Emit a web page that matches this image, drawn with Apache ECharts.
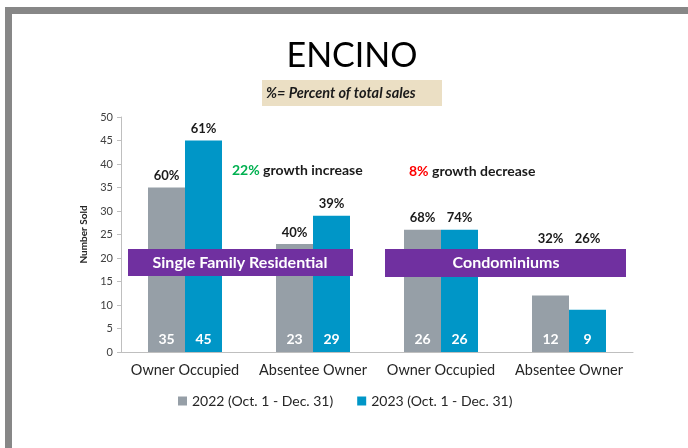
<!DOCTYPE html>
<html>
<head>
<meta charset="utf-8">
<script src="https://cdn.jsdelivr.net/npm/echarts@6/dist/echarts.min.js"></script>
<style>
  html, body { margin: 0; padding: 0; background: #fff; }
  #chart { width: 688px; height: 448px; }
</style>
</head>
<body>
<div id="chart"></div>
<script>
const categories = ["Owner Occupied", "Absentee Owner", "Owner Occupied", "Absentee Owner"];
const sold2022 = [35, 23, 26, 12];
const sold2023 = [45, 29, 26, 9];
const pct2022 = ["60%", "40%", "68%", "32%"];
const pct2023 = ["61%", "39%", "74%", "26%"];
const yTicks = { min: 0, max: 50, interval: 5 };

const FONT = "Lato, 'Open Sans', sans-serif";
const GRAY = "#969fa7";
const BLUE = "#0096c7";

// percent labels sit on a zero-height stacked bar; last category floats above the band
function pctData(values, pcts, lastDistance) {
  return pcts.map((p, i) => {
    const item = { value: 0, pct: p };
    if (i === values.length - 1) item.label = { distance: lastDistance };
    return item;
  });
}

const chart = echarts.init(document.getElementById("chart"));

const option = {
  animation: false,
  textStyle: { fontFamily: FONT },
  grid: { left: 121, right: 55, top: 117, bottom: 96 },
  legend: {
    data: ["2022 (Oct. 1 - Dec. 31)", "2023 (Oct. 1 - Dec. 31)"],
    left: 173,
    top: 389,
    icon: "rect",
    itemWidth: 9,
    itemHeight: 9,
    itemGap: 24,
    textStyle: { fontFamily: FONT, fontSize: 14, color: "#262626" },
  },
  xAxis: {
    type: "category",
    data: categories,
    axisLine: { lineStyle: { color: "#bfbfbf" } },
    axisTick: { length: 5, lineStyle: { color: "#bfbfbf" } },
    axisLabel: { fontSize: 14.5, color: "#262626", margin: 11, interval: 0 },
  },
  yAxis: {
    type: "value",
    min: yTicks.min,
    max: yTicks.max,
    interval: yTicks.interval,
    name: "Number Sold",
    nameLocation: "middle",
    nameRotate: 90,
    nameGap: 32,
    nameTextStyle: { fontSize: 10, fontWeight: "bold", color: "#262626" },
    splitLine: { show: false },
    axisLine: { show: true, lineStyle: { color: "#bfbfbf" } },
    axisTick: { show: true, length: 4, lineStyle: { color: "#bfbfbf" } },
    axisLabel: { fontSize: 11, color: "#404040", margin: 8 },
  },
  series: [
    {
      name: "2022 (Oct. 1 - Dec. 31)",
      type: "bar",
      stack: "a",
      data: sold2022,
      barWidth: 37,
      barGap: "0%",
      itemStyle: { color: GRAY },
      label: {
        show: true, position: "insideBottom", distance: 6,
        color: "#fff", fontWeight: "bold", fontSize: 14,
      },
    },
    {
      name: "pct2022",
      type: "bar",
      stack: "a",
      data: pctData(sold2022, pct2022, 50),
      barWidth: 37,
      barGap: "0%",
      itemStyle: { color: GRAY },
      label: {
        show: true, position: "top", distance: 5,
        formatter: (p) => p.data.pct,
        color: "#1a1a1a", fontWeight: "bold", fontSize: 13,
      },
    },
    {
      name: "2023 (Oct. 1 - Dec. 31)",
      type: "bar",
      stack: "b",
      data: sold2023,
      barWidth: 37,
      barGap: "0%",
      itemStyle: { color: BLUE },
      label: {
        show: true, position: "insideBottom", distance: 6,
        color: "#fff", fontWeight: "bold", fontSize: 14,
      },
    },
    {
      name: "pct2023",
      type: "bar",
      stack: "b",
      data: pctData(sold2023, pct2023, 64),
      barWidth: 37,
      barGap: "0%",
      itemStyle: { color: BLUE },
      label: {
        show: true, position: "top", distance: 5,
        formatter: (p) => p.data.pct,
        color: "#1a1a1a", fontWeight: "bold", fontSize: 13,
      },
    },
  ],
  graphic: [
    // page frame
    { type: "rect", shape: { x: 5, y: 7, width: 683, height: 7 }, style: { fill: "#878787" } },
    { type: "rect", shape: { x: 5, y: 7, width: 7, height: 441 }, style: { fill: "#878787" } },
    // title
    {
      type: "text", x: 352, y: 56,
      style: { text: "ENCINO", fontFamily: FONT, fontSize: 34, fill: "#000", align: "center", verticalAlign: "middle" },
    },
    { type: "rect", shape: { x: 262, y: 80, width: 180, height: 26 }, style: { fill: "#ebdfc4" } },
    {
      type: "text", x: 266, y: 93,
      style: { text: "%= Percent of total sales", fontFamily: FONT, fontSize: 14.5, fontWeight: "bold", fontStyle: "italic", fill: "#1a1a1a", verticalAlign: "middle" },
    },
    // growth notes
    {
      type: "text", x: 232, y: 170, z: 10,
      style: {
        text: "{g|22%} growth increase", verticalAlign: "middle",
        fontFamily: FONT, fontSize: 14, fontWeight: "bold", fill: "#1a1a1a",
        rich: { g: { fill: "#00b050", fontFamily: FONT, fontSize: 14, fontWeight: "bold" } },
      },
    },
    {
      type: "text", x: 409, y: 171, z: 10,
      style: {
        text: "{r|8%} growth decrease", verticalAlign: "middle",
        fontFamily: FONT, fontSize: 14, fontWeight: "bold", fill: "#1a1a1a",
        rich: { r: { fill: "#ff0000", fontFamily: FONT, fontSize: 14, fontWeight: "bold" } },
      },
    },
    // segment bands
    { type: "rect", z: 10, shape: { x: 128, y: 249, width: 225, height: 27 }, style: { fill: "#7030a0" } },
    {
      type: "text", z: 11, x: 240, y: 263,
      style: { text: "Single Family Residential", fontFamily: FONT, fontSize: 16, fontWeight: "bold", fill: "#fff", align: "center", verticalAlign: "middle" },
    },
    { type: "rect", z: 10, shape: { x: 385, y: 249, width: 241, height: 28 }, style: { fill: "#7030a0" } },
    {
      type: "text", z: 11, x: 506, y: 263,
      style: { text: "Condominiums", fontFamily: FONT, fontSize: 16, fontWeight: "bold", fill: "#fff", align: "center", verticalAlign: "middle" },
    },
  ],
};

chart.setOption(option);
</script>
</body>
</html>
